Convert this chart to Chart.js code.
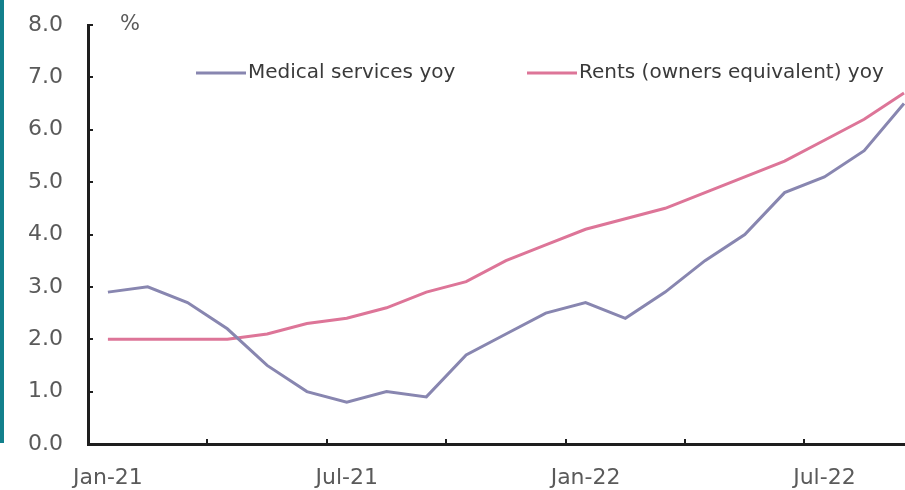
<!DOCTYPE html>
<html>
<head>
<meta charset="utf-8">
<script src="https://cdn.jsdelivr.net/npm/chart.js@4.4.1/dist/chart.umd.min.js"></script>
<style>
  html, body { margin: 0; padding: 0; background: #fff; overflow: hidden; }
  .chart { position: relative; width: 930px; height: 490px; }
  .chart-edge { position: absolute; left: 0; top: 0; width: 4px; height: 443px; background: #12808c; }
</style>
</head>
<body>
<div class="chart">
  <canvas id="cpi"></canvas>
  <div class="chart-edge"></div>
</div>
<script>
const months = [
  "Jan-21", "Feb-21", "Mar-21", "Apr-21", "May-21", "Jun-21", "Jul-21",
  "Aug-21", "Sep-21", "Oct-21", "Nov-21", "Dec-21", "Jan-22", "Feb-22",
  "Mar-22", "Apr-22", "May-22", "Jun-22", "Jul-22", "Aug-22", "Sep-22",
]
const medicalServices = [
  2.9, 3.0, 2.7, 2.2, 1.5, 1.0, 0.8, 1.0, 0.9, 1.7, 2.1, 2.5, 2.7, 2.4,
  2.9, 3.5, 4.0, 4.8, 5.1, 5.6, 6.5,
]
const rentsOER = [
  2.0, 2.0, 2.0, 2.0, 2.1, 2.3, 2.4, 2.6, 2.9, 3.1, 3.5, 3.8, 4.1, 4.3,
  4.5, 4.8, 5.1, 5.4, 5.8, 6.2, 6.7,
]
const seriesNames = ["Medical services yoy", "Rents (owners equivalent) yoy"]
const yMin = 0
const yMax = 8
const yStep = 1
const unitLabel = "%"

const FONT = "'DejaVu Sans', sans-serif"
const AXIS_COLOR = "#1e1e1e"
const TICK_TEXT = "#5a5a5a"

// legend + unit label drawn straight onto the canvas
const legendOffsets = [108, 439]
const overlayPlugin = {
  id: "overlay",
  afterDraw(chart) {
    const { ctx, chartArea } = chart
    ctx.save()
    ctx.textBaseline = "middle"
    ctx.font = `21px ${FONT}`
    ctx.fillStyle = TICK_TEXT
    ctx.fillText(unitLabel, chartArea.left + 32, chartArea.top)

    ctx.font = `20px ${FONT}`
    ctx.fillStyle = "#3a3a3a"
    const y = chartArea.top + 48
    chart.data.datasets.forEach((ds, i) => {
      const x = chartArea.left + legendOffsets[i]
      ctx.strokeStyle = ds.borderColor
      ctx.lineWidth = 3
      ctx.beginPath()
      ctx.moveTo(x, y)
      ctx.lineTo(x + 50, y)
      ctx.stroke()
      ctx.fillText(ds.label, x + 52, y)
    })
    ctx.restore()
  },
}

const ctx = document.getElementById("cpi").getContext("2d")

new Chart(ctx, {
  type: "line",
  data: {
    labels: months,
    datasets: [
      {
        label: seriesNames[0],
        data: medicalServices,
        borderColor: "#8886b0",
        borderWidth: 3,
        pointRadius: 0,
        tension: 0,
      },
      {
        label: seriesNames[1],
        data: rentsOER,
        borderColor: "#dd7598",
        borderWidth: 3,
        pointRadius: 0,
        tension: 0,
      },
    ],
  },
  options: {
    responsive: true,
    maintainAspectRatio: false,
    animation: false,
    layout: {
      padding: { top: 25, right: 0, left: 0, bottom: 0 },
    },
    plugins: {
      legend: { display: false },
      tooltip: { enabled: false },
    },
    scales: {
      x: {
        offset: true,
        grid: {
          offset: true,
          drawOnChartArea: false,
          tickLength: -5,
          lineWidth: 2,
          color: (c) => (c.index % 3 === 0 ? AXIS_COLOR : "transparent"),
        },
        border: { color: AXIS_COLOR, width: 3 },
        ticks: {
          autoSkip: false,
          maxRotation: 0,
          padding: 26,
          color: TICK_TEXT,
          font: { family: FONT, size: 22 },
          callback: function (value, index) {
            return index % 6 === 0 ? this.getLabelForValue(value) : ""
          },
        },
        afterFit: (scale) => {
          scale.height = 46
        },
      },
      y: {
        min: yMin,
        max: yMax,
        grid: {
          drawOnChartArea: false,
          tickLength: -5,
          lineWidth: 2,
          color: AXIS_COLOR,
        },
        border: { color: AXIS_COLOR, width: 3 },
        ticks: {
          stepSize: yStep,
          padding: 30,
          color: TICK_TEXT,
          font: { family: FONT, size: 22 },
          callback: (v) => v.toFixed(1),
        },
        afterFit: (scale) => {
          scale.width = 88
          // the big label padding shouldn't push the plot down
          scale.paddingTop = 12
          scale.paddingBottom = 12
        },
      },
    },
  },
  plugins: [overlayPlugin],
})
</script>
</body>
</html>
